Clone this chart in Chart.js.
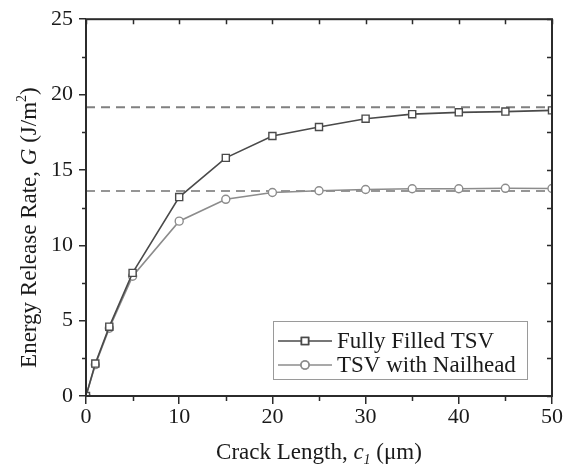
<!DOCTYPE html>
<html>
<head>
<meta charset="utf-8">
<script src="https://cdn.jsdelivr.net/npm/chart.js@4.4.0/dist/chart.umd.min.js"></script>
<style>
html,body{margin:0;padding:0;background:#fff}
</style>
</head>
<body>
<canvas id="Chart" width="563" height="473"></canvas>
<script>
// crack length c1 (um) and energy release rate G (J/m^2)
const crackLength=[0,1,2.5,5,10,15,20,25,30,35,40,45,50];
const fullyFilled=[0,2.15,4.6,8.17,13.2,15.8,17.25,17.85,18.4,18.7,18.82,18.87,18.95];
const nailhead=[0,2.08,4.5,7.95,11.6,13.05,13.5,13.62,13.7,13.75,13.75,13.78,13.77];
const limits=[19.15,13.6];
const seriesNames=['Fully Filled TSV','TSV with Nailhead'];
const xRange=[0,50];
const yRange=[0,25];

const serif='"Liberation Serif", "Times New Roman", serif';
const dark='#4a4a4a', light='#8c8c8c', axisCol='#2b2b2b';

const pts=(xs,ys)=>xs.map((x,i)=>({x:x,y:ys[i]}));
const limitLine=v=>xRange.map(x=>({x:x,y:v}));

function drawRich(ctx,parts,x,y){
    let w=0;
    parts.forEach(p=>{ctx.font=p.font; w+=ctx.measureText(p.t).width;});
    let cx=x-w/2;
    parts.forEach(p=>{
        ctx.font=p.font;
        ctx.fillText(p.t,cx,y+(p.dy||0));
        cx+=ctx.measureText(p.t).width;
    });
}

const framePlugin={
    id:'frame',
    afterDatasetsDraw(chart){
        const ctx=chart.ctx, a=chart.chartArea;
        const xs=chart.scales.x, ys=chart.scales.y;
        ctx.save();
        ctx.strokeStyle=axisCol;
        ctx.lineWidth=2;
        ctx.strokeRect(a.left,a.top,a.right-a.left,a.bottom-a.top);
        ctx.lineWidth=1.5;
        ctx.beginPath();
        // x ticks: minor outward at bottom, all inward at top
        for(let v=xRange[0];v<=xRange[1];v+=5){
            const px=Math.round(xs.getPixelForValue(v))+0.5;
            if(v%10!==0){ctx.moveTo(px,a.bottom);ctx.lineTo(px,a.bottom+5);}
            ctx.moveTo(px,a.top);ctx.lineTo(px,a.top+5);
        }
        for(let v=yRange[0];v<=yRange[1];v+=2.5){
            const py=Math.round(ys.getPixelForValue(v))+0.5;
            if(v%5!==0){ctx.moveTo(a.left,py);ctx.lineTo(a.left-4,py);}
            ctx.moveTo(a.right,py);ctx.lineTo(a.right-5,py);
        }
        ctx.stroke();

        // legend
        const lx=273, ly=321, lw=254, lh=58;
        ctx.fillStyle='#fff';
        ctx.fillRect(lx,ly,lw,lh);
        ctx.strokeStyle='#9a9a9a';
        ctx.lineWidth=1;
        ctx.strokeRect(lx+0.5,ly+0.5,lw,lh);
        const rows=[{ds:chart.data.datasets[0],y:ly+20},{ds:chart.data.datasets[1],y:ly+44}];
        rows.forEach(r=>{
            ctx.strokeStyle=r.ds.borderColor;
            ctx.lineWidth=r.ds.borderWidth;
            ctx.beginPath();
            ctx.moveTo(lx+5,r.y);ctx.lineTo(lx+59,r.y);
            ctx.stroke();
            Chart.helpers.drawPoint(ctx,{pointStyle:r.ds.pointStyle,radius:r.ds.pointRadius,borderWidth:r.ds.pointBorderWidth},lx+32,r.y);
            ctx.fillStyle='#fff';
            ctx.fill();
            ctx.stroke();
            ctx.fillStyle='#1a1a1a';
            ctx.font='23px '+serif;
            ctx.textAlign='left';
            ctx.textBaseline='middle';
            ctx.fillText(r.ds.label,lx+64,r.y+1);
        });
        ctx.restore();
    },
    afterDraw(chart){
        const ctx=chart.ctx, a=chart.chartArea;
        ctx.save();
        ctx.fillStyle='#1a1a1a';
        ctx.textBaseline='alphabetic';
        ctx.textAlign='left';
        const f='23px '+serif, fi='italic 23px '+serif, fs='italic 14px '+serif, fsup='14px '+serif;
        drawRich(ctx,[
            {t:'Crack Length, ',font:f},
            {t:'c',font:fi},
            {t:'1',font:fs,dy:5},
            {t:' (\u03bcm)',font:f}
        ],(a.left+a.right)/2,459);
        ctx.translate(36,(a.top+a.bottom)/2+20);
        ctx.rotate(-Math.PI/2);
        drawRich(ctx,[
            {t:'Energy Release Rate, ',font:f},
            {t:'G',font:fi},
            {t:' (J/m',font:f},
            {t:'2',font:fsup,dy:-10},
            {t:')',font:f}
        ],0,0);
        ctx.restore();
    }
};

new Chart(document.getElementById('Chart'),{
    type:'line',
    data:{
        datasets:[{
            label:seriesNames[0],
            data:pts(crackLength,fullyFilled),
            borderColor:dark,
            backgroundColor:'#fff',
            borderWidth:1.6,
            pointStyle:'rect',
            pointRadius:5,
            pointBorderWidth:1.4,
            pointBackgroundColor:'#fff',
            order:1
        },{
            label:seriesNames[1],
            data:pts(crackLength,nailhead),
            borderColor:light,
            backgroundColor:'#fff',
            borderWidth:1.6,
            pointStyle:'circle',
            pointRadius:4,
            pointBorderWidth:1.4,
            pointBackgroundColor:'#fff',
            order:2
        },{
            label:'limit1',
            data:limitLine(limits[0]),
            borderColor:'#808080',
            borderWidth:2,
            borderDash:[9,6],
            pointRadius:0,
            order:3
        },{
            label:'limit2',
            data:limitLine(limits[1]),
            borderColor:'#959595',
            borderWidth:2,
            borderDash:[9,6],
            pointRadius:0,
            order:3
        }]
    },
    options:{
        responsive:false,
        animation:false,
        layout:{padding:{left:0,top:19,right:11,bottom:0}},
        plugins:{legend:{display:false},tooltip:{enabled:false}},
        scales:{
            x:{
                type:'linear',
                min:xRange[0],max:xRange[1],
                ticks:{stepSize:10,color:'#1a1a1a',padding:0,maxRotation:0,font:{family:serif,size:22}},
                grid:{drawOnChartArea:false,tickLength:8,color:axisCol,lineWidth:1.5},
                border:{display:false},
                afterFit(s){s.height=77;}
            },
            y:{
                min:yRange[0],max:yRange[1],
                ticks:{stepSize:5,color:'#1a1a1a',padding:6,font:{family:serif,size:22}},
                grid:{drawOnChartArea:false,tickLength:7,color:axisCol,lineWidth:1.5},
                border:{display:false},
                afterFit(s){s.width=86;}
            }
        }
    },
    plugins:[framePlugin]
});
</script>
</body>
</html>
